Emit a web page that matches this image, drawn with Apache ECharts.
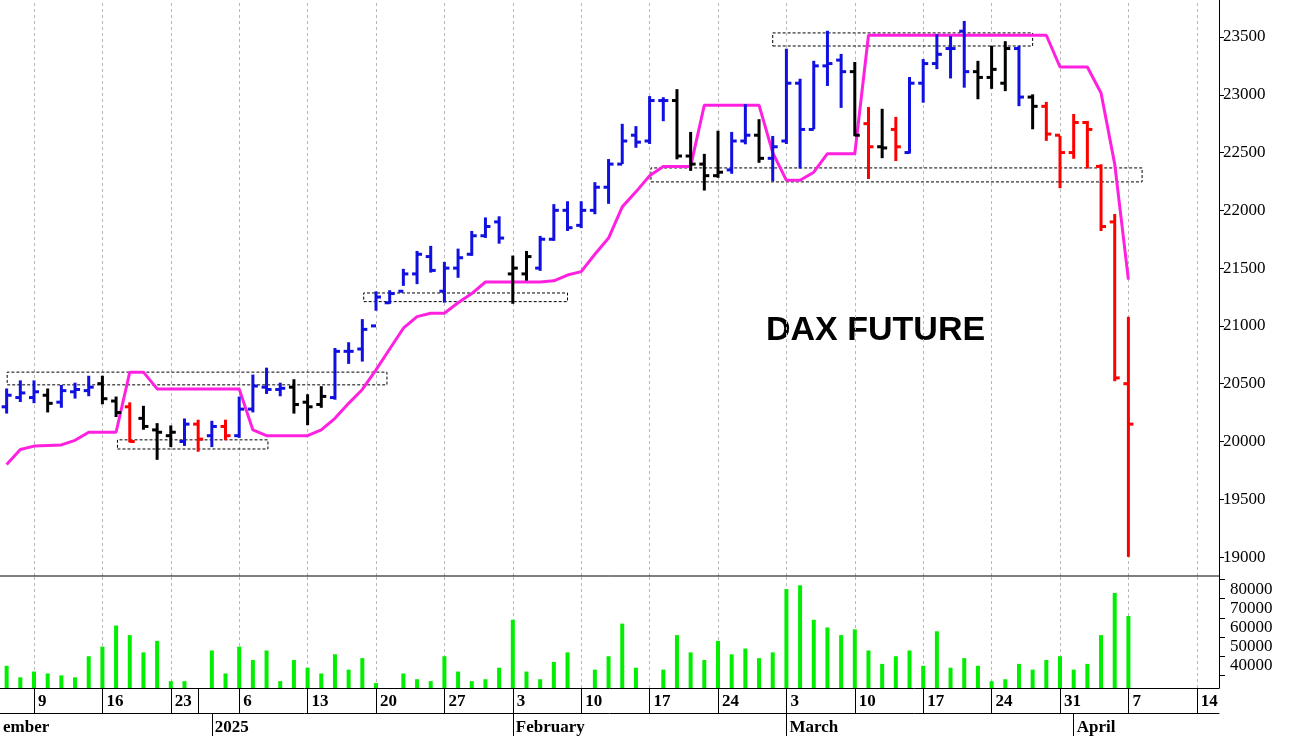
<!DOCTYPE html>
<html><head><meta charset="utf-8">
<script src="https://cdn.jsdelivr.net/npm/echarts@6/dist/echarts.min.js"></script>
<style>html,body{margin:0;padding:0;background:#fff}#c{width:1290px;height:736px}</style>
</head><body><div id="c"></div>
<script>
// trading-day index 0 = Dec 5 2024
const opens  = [20300,20380,20380,20400,20340,20430,20440,20500,20350,20300,20200,20100,20050,20000,20150,20050,20130,20050,20280,20470,20450,20470,20340,20320,20380,20780,20800,21000,21200,21300,21450,21600,21300,21500,21620,21780,21900,21450,21450,21500,21750,22000,21870,22000,22200,22400,22650,22600,22950,22950,22470,22400,22300,22350,22600,22650,22450,22600,23100,22700,23250,23300,23200,22750,22550,22700,22500,23100,23270,23400,23550,23200,23150,23100,23400,22980,22900,22650,22500,22760,22380,21900,20500];
const highs  = [20450,20520,20520,20450,20480,20500,20560,20560,20380,20330,20300,20150,20130,20190,20180,20170,20180,20380,20570,20630,20500,20530,20400,20470,20800,20850,21050,21290,21300,21485,21640,21684,21545,21660,21813,21930,21940,21600,21640,21770,22045,22070,22070,22235,22435,22740,22720,22980,22970,23040,22670,22480,22680,22670,22910,22780,22635,23390,23130,23285,23545,23345,23275,22885,22870,22800,23145,23300,23515,23500,23630,23285,23415,23455,23415,22995,22930,22635,22825,22765,22390,21960,21070];
const lows   = [20250,20350,20340,20260,20300,20380,20400,20330,20220,20000,20110,19850,19960,19970,19920,19960,20020,20040,20260,20420,20400,20250,20150,20300,20370,20680,20700,21140,21200,21355,21370,21470,21210,21425,21615,21770,21720,21200,21400,21485,21745,21830,21855,21975,22065,22410,22550,22583,22780,22450,22350,22180,22290,22325,22580,22420,22260,22583,22370,22710,23085,22895,22650,22280,22460,22435,22500,22940,23230,23150,23070,22970,23060,23040,22910,22710,22610,22200,22455,22370,21830,20530,19010];
const closes = [20400,20420,20430,20330,20440,20450,20470,20370,20250,20000,20130,20080,20080,20150,20020,20130,20050,20280,20480,20450,20460,20320,20300,20390,20780,20780,20970,21250,21280,21450,21620,21480,21500,21590,21780,21860,21760,21500,21600,21750,22000,21850,22000,22200,22400,22600,22590,22950,22950,22470,22400,22300,22330,22600,22650,22450,22550,23100,22700,23250,23270,23200,22650,22550,22540,22550,23100,23270,23350,23400,23200,23150,23220,23400,22980,22900,22660,22500,22760,22700,21860,20550,20150];
const signal = "bbbkbbbkkrkkkbrbrbbbbkkkbbbbbbbbbbbbbkkbbbbbbbbbbkkkkbbkbbbbbbkrkrbbbbbkkkbkrrrrrrrr".split("");
const stopLine = [19800,19930,19960,19965,19970,20010,20080,20080,20080,20600,20600,20455,20455,20455,20455,20455,20455,20455,20100,20050,20050,20050,20050,20100,20200,20330,20450,20620,20800,20980,21080,21110,21110,21200,21280,21380,21380,21380,21380,21380,21390,21440,21470,21620,21760,22030,22160,22300,22380,22380,22380,22910,22910,22910,22910,22910,22500,22260,22260,22330,22490,22490,22490,23515,23515,23515,23515,23515,23515,23515,23515,23515,23515,23515,23515,23515,23515,23240,23240,23240,23015,22400,21400];
const volumeK = [40,34,37,36,35,34,45,50,61,56,47,53,32,32,28,48,36,50,43,48,32,43,39,36,46,38,44,31,27,36,33,32,45,37,32,33,39,64,37,33,42,47,28,38,45,62,39,28,38,56,47,43,53,46,49,44,47,80,82,64,60,56,59,48,41,45,48,40,58,39,44,40,32,33,41,38,43,45,38,41,56,78,66];
// rectangles: [startIdx, endIdx, low, high]
const boxes = [[0.04,27.8,20490,20600],[8.1,19.1,19935,20014],[26.1,41.0,21210,21285],[47.1,83.0,22246,22367],[56.0,75.0,23422,23535]];
const mondayIdx = [2,7,12,17,22,27,32,37,42,47,52,57,62,67,72,77,82,87];
const dayLabels = {2:"9",7:"16",12:"23",17:"6",22:"13",27:"20",32:"27",37:"3",42:"10",47:"17",52:"24",57:"3",62:"10",67:"17",72:"24",77:"31",82:"7",87:"14"};
const yearEndIdx = 14;
const monthIdx = [15,37,57,78];
const monthNames = ["2025","February","March","April"];
const cutMonthName = "ember";
const priceTicks = [19000,19500,20000,20500,21000,21500,22000,22500,23000,23500];
const volTicks = [40000,50000,60000,70000,80000];
const title = "DAX FUTURE";

const colorMap = {b:"#1010e0",k:"#000000",r:"#ff0000"};
const STEP=13.68, X0=6.64, W=1219;
const XMIN=-X0/STEP, XMAX=(W-X0)/STEP;
const ohlc = opens.map((o,i)=>[i,o,highs[i],lows[i],closes[i]]);
const chart = echarts.init(document.getElementById('c'));
const gridMark = ()=>({silent:true,z:0,zlevel:0,symbol:'none',label:{show:false},lineStyle:{color:'#b8b8b8',type:[3,3],width:1},data:mondayIdx.map(v=>({xAxis:v}))});
const serif = 'Liberation Serif';
const xBase = {type:'value',min:XMIN,max:XMAX,splitLine:{show:false}};
const monthVals = [XMIN].concat(monthIdx);
const monthTexts = [cutMonthName].concat(monthNames);
chart.setOption({
  animation:false,
  grid:[{left:0,top:0,width:W,height:576},{left:0,top:576,width:W,height:112}],
  xAxis:[
    Object.assign({},xBase,{gridIndex:0,axisLine:{show:false},axisTick:{show:false},axisLabel:{show:false}}),
    Object.assign({},xBase,{gridIndex:1,axisLine:{show:true,onZero:false,lineStyle:{color:'#000'}},
      axisTick:{show:true,customValues:mondayIdx.concat([yearEndIdx]),length:25,lineStyle:{color:'#000'}},
      axisLabel:{customValues:mondayIdx,formatter:v=>dayLabels[Math.round(v)]||'',align:'left',padding:[0,0,0,4],fontWeight:'bold',fontSize:17,color:'#000',fontFamily:serif,margin:5,showMinLabel:true,showMaxLabel:true}}),
    Object.assign({},xBase,{gridIndex:1,position:'bottom',offset:25,axisLine:{show:true,onZero:false,lineStyle:{color:'#000'}},
      axisTick:{show:true,customValues:monthIdx,length:25,lineStyle:{color:'#000'}},
      axisLabel:{customValues:monthVals,formatter:v=>{const k=monthVals.findIndex(m=>Math.abs(m-v)<0.01);return k>=0?monthTexts[k]:'';},align:'left',padding:[0,0,0,3],fontWeight:'bold',fontSize:17,color:'#000',fontFamily:serif,margin:6,showMinLabel:true,showMaxLabel:true}})
  ],
  yAxis:[
    {type:'value',gridIndex:0,position:'right',min:18836,max:23820,splitLine:{show:false},axisLine:{show:true,onZero:false,lineStyle:{color:'#000'}},
     axisTick:{show:true,customValues:priceTicks,length:5,lineStyle:{color:'#000'}},
     axisLabel:{customValues:priceTicks,formatter:v=>String(v),color:'#000',fontSize:17,fontFamily:serif,margin:4}},
    {type:'value',gridIndex:1,position:'right',min:28421,max:86842,splitLine:{show:false},axisLine:{show:true,onZero:false,lineStyle:{color:'#000'}},
     axisTick:{show:true,customValues:[35000,45000,55000,65000,75000,85000],length:6,lineStyle:{color:'#000'}},
     axisLabel:{customValues:volTicks,formatter:v=>String(v),color:'#000',fontSize:17,fontFamily:serif,margin:11}}
  ],
  graphic:[
    {type:'line',shape:{x1:0,y1:576,x2:W,y2:576},style:{stroke:'#000',lineWidth:1},z:10},
    {type:'text',left:766,top:314,style:{text:title,font:'bold 34px "Liberation Sans"',fill:'#000'}}
  ],
  series:[
    {type:'line',xAxisIndex:0,yAxisIndex:0,data:[],z:0,markLine:gridMark()},
    {type:'line',xAxisIndex:1,yAxisIndex:1,data:[],z:0,markLine:gridMark()},
    {type:'custom',xAxisIndex:0,yAxisIndex:0,data:ohlc,z:5,
     renderItem:(params,api)=>{
       const i=api.value(0);
       const pH=api.coord([i,api.value(2)]), pL=api.coord([i,api.value(3)]);
       const pO=api.coord([i,api.value(1)]), pC=api.coord([i,api.value(4)]);
       const col=colorMap[signal[i]];
       const st={stroke:col,lineWidth:3};
       return {type:'group',children:[
         {type:'line',shape:{x1:pH[0],y1:pH[1]-1,x2:pL[0],y2:pL[1]+1},style:st},
         {type:'line',shape:{x1:pO[0]-5,y1:pO[1],x2:pO[0],y2:pO[1]},style:st},
         {type:'line',shape:{x1:pC[0],y1:pC[1],x2:pC[0]+5,y2:pC[1]},style:st}
       ]};
     },
     markArea:{silent:true,z:1,itemStyle:{color:'rgba(0,0,0,0)',borderColor:'#000',borderWidth:1,borderType:[3,2]},
       data:boxes.map(b=>[{xAxis:b[0],yAxis:b[2]},{xAxis:b[1],yAxis:b[3]}])}
    },
    {type:'line',xAxisIndex:0,yAxisIndex:0,data:stopLine.map((v,i)=>[i,v]),symbol:'none',z:4,
     lineStyle:{color:'#ff20e0',width:3}},
    {type:'bar',xAxisIndex:1,yAxisIndex:1,data:volumeK.map((v,i)=>[i,v*1000]),barWidth:4,z:5,
     itemStyle:{color:'#00ee00'}}
  ]
});
</script></body></html>
